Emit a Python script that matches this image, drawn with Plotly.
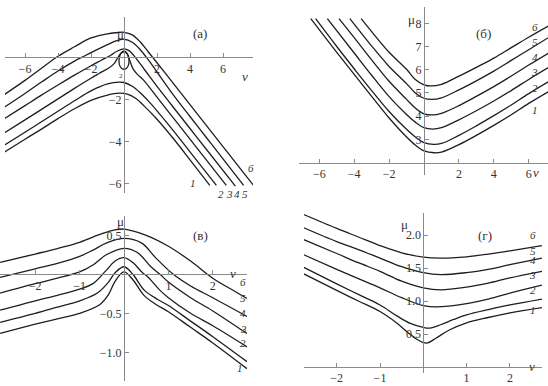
import plotly.graph_objects as go

W, H = 548, 386

# ---------------- panel (а) data ----------------
a1_v = [-7.3, -6, -5, -4, -3, -2, -1, -0.3, 0.2, 0.7, 1.2, 2, 3, 4, 5.2]
a1_mu = [-4.54, -3.9, -3.42, -2.92, -2.45, -2.05, -1.8, -1.71, -1.75, -1.95, -2.3, -2.95, -3.88, -4.88, -6.1]
a2_v = [-7.3, -6, -5, -4, -3, -2, -1, -0.3, 0, 0.5, 1, 1.5, 2, 3, 4, 5.6]
a2_mu = [-4.21, -3.57, -3.07, -2.57, -2.07, -1.6, -1.27, -1.18, -1.2, -1.38, -1.7, -2.1, -2.55, -3.5, -4.5, -6.1]
a3_v = [-7.3, -6, -5, -4, -3, -2, -1.4, -0.9, -0.6, -0.4, -0.2, 0, 0.2, 0.35, 0.55, 0.8, 1.2, 2, 3, 4, 5, 6.2]
a3_mu = [-3.62, -2.98, -2.48, -1.98, -1.48, -1.0, -0.72, -0.5, -0.3, -0.05, 0.18, 0.26, 0.15, -0.15, -0.55, -0.8, -1.1, -1.9, -2.9, -3.9, -4.9, -6.1]
a4_v = [-7.3, -6, -5, -4, -3, -2, -1.4, -0.8, -0.4, 0, 0.3, 0.6, 1, 1.5, 2, 3, 4, 5, 6.75]
a4_mu = [-2.95, -2.3, -1.8, -1.32, -0.85, -0.4, -0.15, 0.1, 0.3, 0.4, 0.32, 0.08, -0.33, -0.86, -1.38, -2.39, -3.39, -4.39, -6.13]
a5_v = [-7.3, -6, -5, -4, -3, -2.5, -2, -1, -0.5, 0, 0.5, 1, 1.5, 2, 3, 4, 5, 6, 7.25]
a5_mu = [-2.4, -1.72, -1.18, -0.65, -0.18, 0.02, 0.22, 0.6, 0.78, 0.86, 0.72, 0.35, -0.15, -0.7, -1.8, -2.82, -3.83, -4.84, -6.1]
a6_v = [-7.3, -6, -5, -4, -3, -2, -1, -0.5, 0, 0.5, 1, 1.5, 2, 3, 4, 5, 6, 7, 7.85]
a6_mu = [-1.8, -1.1, -0.52, 0.05, 0.5, 0.92, 1.12, 1.17, 1.19, 1.07, 0.72, 0.23, -0.26, -1.25, -2.25, -3.25, -4.25, -5.25, -6.1]
a_loop_v = [0.0, 0.2, 0.3, 0.28, 0.15, 0.0, -0.15, -0.28, -0.3, -0.2, 0.0]
a_loop_mu = [0.3, 0.18, -0.1, -0.35, -0.52, -0.57, -0.52, -0.35, -0.1, 0.18, 0.3]

# ---------------- panel (б) data ----------------
b1_v = [-6.49, -5, -4, -3, -2, -1, -0.5, 0, 0.6, 1, 2, 3, 4, 5, 6, 7.12]
b1_mu = [8.2, 6.75, 5.8, 4.85, 3.92, 3.1, 2.75, 2.5, 2.42, 2.45, 2.77, 3.17, 3.6, 4.06, 4.55, 5.05]
b2_v = [-6.21, -5, -4, -3, -2, -1, -0.5, 0, 0.55, 1, 2, 3, 4, 5, 6, 7.12]
b2_mu = [8.2, 7.0, 6.04, 5.1, 4.2, 3.43, 3.1, 2.86, 2.78, 2.82, 3.17, 3.58, 4.02, 4.48, 4.97, 5.48]
b3_v = [-5.54, -4, -3, -2, -1, -0.5, 0, 0.5, 1, 2, 3, 4, 5, 6, 7.12]
b3_mu = [8.2, 6.72, 5.76, 4.84, 4.07, 3.74, 3.5, 3.44, 3.5, 3.84, 4.23, 4.65, 5.1, 5.58, 6.09]
b4_v = [-4.87, -4, -3, -2, -1, -0.5, 0, 0.5, 1, 2, 3, 4, 5, 6, 7.12]
b4_mu = [8.2, 7.38, 6.42, 5.5, 4.72, 4.35, 4.1, 4.05, 4.12, 4.45, 4.85, 5.27, 5.73, 6.2, 6.71]
b5_v = [-4.25, -3, -2, -1, -0.5, 0, 0.45, 1, 2, 3, 4, 5, 6, 7.12]
b5_mu = [8.2, 7.02, 6.14, 5.4, 5.0, 4.77, 4.72, 4.79, 5.13, 5.52, 5.94, 6.4, 6.86, 7.38]
b6_v = [-3.6, -3, -2, -1, -0.5, 0, 0.4, 1, 2, 3, 4, 5, 6, 7.12]
b6_mu = [8.2, 7.64, 6.75, 6.02, 5.58, 5.35, 5.3, 5.37, 5.72, 6.1, 6.5, 6.95, 7.4, 7.88]

# ---------------- panel (в) data ----------------
c1_v = [-2.79, -2, -1.5, -1, -0.55, -0.35, -0.2, 0, 0.2, 0.45, 0.73, 1, 1.5, 2, 2.77]
c1_mu = [-0.756, -0.64, -0.57, -0.5, -0.39, -0.26, -0.09, 0.03, -0.07, -0.27, -0.39, -0.48, -0.68, -0.88, -1.21]
c2_v = [-2.79, -2, -1.5, -1, -0.6, -0.35, -0.2, 0, 0.2, 0.45, 0.75, 1, 1.5, 2, 2.77]
c2_mu = [-0.615, -0.5, -0.42, -0.34, -0.24, -0.1, 0.02, 0.097, 0.0, -0.2, -0.32, -0.4, -0.6, -0.8, -1.12]
c3_v = [-2.79, -2, -1.5, -1, -0.7, -0.4, -0.2, 0, 0.2, 0.4, 0.55, 0.8, 1, 1.5, 2, 2.77]
c3_mu = [-0.46, -0.34, -0.27, -0.19, -0.12, 0.05, 0.17, 0.213, 0.15, 0.03, -0.04, -0.2, -0.3, -0.5, -0.66, -0.93]
c4_v = [-2.79, -2, -1.5, -1, -0.7, -0.4, 0, 0.3, 0.6, 0.81, 1, 1.5, 2, 2.77]
c4_mu = [-0.24, -0.12, -0.05, 0.03, 0.12, 0.25, 0.333, 0.28, 0.1, 0.0, -0.1, -0.3, -0.47, -0.76]
c5_v = [-2.79, -2, -1.5, -1, -0.7, -0.4, 0, 0.4, 0.7, 1.11, 1.5, 2, 2.77]
c5_mu = [-0.04, 0.07, 0.14, 0.23, 0.31, 0.4, 0.46, 0.4, 0.22, 0.0, -0.15, -0.3, -0.54]
c6_v = [-2.79, -2, -1.5, -1, -0.5, -0.2, 0, 0.5, 1, 1.5, 2, 2.5, 2.77]
c6_mu = [0.154, 0.26, 0.33, 0.41, 0.52, 0.57, 0.58, 0.5, 0.36, 0.17, -0.05, -0.22, -0.31]

# ---------------- panel (г) data ----------------
d1_v = [-2.76, -2, -1.5, -1, -0.6, -0.35, -0.15, 0, 0.1, 0.3, 0.6, 1, 1.5, 2, 2.74]
d1_mu = [1.41, 1.16, 1.0, 0.84, 0.66, 0.52, 0.42, 0.37, 0.365, 0.44, 0.56, 0.67, 0.75, 0.82, 0.9]
d2_v = [-2.76, -2, -1.5, -1, -0.6, -0.3, 0, 0.15, 0.4, 0.7, 1, 1.5, 2, 2.74]
d2_mu = [1.51, 1.26, 1.1, 0.94, 0.77, 0.66, 0.6, 0.59, 0.64, 0.72, 0.79, 0.87, 0.94, 1.03]
d3_v = [-2.76, -2, -1.5, -1, -0.5, 0, 0.3, 1, 1.5, 2, 2.74]
d3_mu = [1.7, 1.48, 1.34, 1.2, 1.05, 0.93, 0.91, 0.96, 1.03, 1.12, 1.24]
d4_v = [-2.76, -2, -1.5, -1, -0.5, 0, 0.4, 1, 1.5, 2, 2.74]
d4_mu = [1.93, 1.72, 1.58, 1.45, 1.3, 1.2, 1.17, 1.21, 1.27, 1.35, 1.45]
d5_v = [-2.76, -2, -1.5, -1, -0.5, 0, 0.4, 1, 1.5, 2, 2.74]
d5_mu = [2.11, 1.9, 1.78, 1.65, 1.52, 1.43, 1.4, 1.43, 1.48, 1.55, 1.65]
d6_v = [-2.76, -2, -1.5, -1, -0.5, 0, 0.4, 1, 1.5, 2, 2.74]
d6_mu = [2.31, 2.1, 1.97, 1.84, 1.73, 1.665, 1.65, 1.67, 1.71, 1.76, 1.84]

curve_names = ["1", "2", "3", "4", "5", "6"]

# tick values / labels
a_xticks = [-6, -4, -2, 2, 4, 6]
a_yticks = [-2, -4, -6]
b_xticks = [-6, -4, -2, 2, 4, 6]
b_yticks = [3, 4, 5, 6, 7, 8]
c_xticks = [-2, -1, 1, 2]
c_yticks = [0.5, -0.5, -1.0]
d_xticks = [-2, -1, 1, 2]
d_yticks = [0.5, 1.0, 1.5, 2.0]


def fmt(t, dec):
    s = f"{abs(t):.{dec}f}"
    return ("\u2212" + s) if t < 0 else s


# panel geometry (pixel frame + pixel scale of the drawn axes)
panels = [
    dict(name="(а)", xd=(5, 253), yd=(17, 193), X0=124.0, sx=16.5, Y0=57.3, sy=21.0, axmu=0.0,
         curves=[(a1_v, a1_mu), (a2_v, a2_mu), (a3_v, a3_mu), (a4_v, a4_mu), (a5_v, a5_mu), (a6_v, a6_mu),
                 (a_loop_v, a_loop_mu)],
         xt=a_xticks, yt=a_yticks, ydec=0,
         title_px=(200, 24), mu_px=(115, 25), v_px=(245, 67),
         lab_px=[(193, 183), (221, 194), (229, 194), (237, 194), (245, 194), (251, 168)]),
    dict(name="(б)", xd=(299, 548), yd=(7, 175), X0=424.0, sx=17.45, Y0=208.9, sy=23.2, axmu=2.0,
         curves=[(b1_v, b1_mu), (b2_v, b2_mu), (b3_v, b3_mu), (b4_v, b4_mu), (b5_v, b5_mu), (b6_v, b6_mu)],
         xt=b_xticks, yt=b_yticks, ydec=0,
         title_px=(493, 24), mu_px=(417, 10), v_px=(541, 172),
         lab_px=[(539, 103), (539, 81), (539, 65), (539, 50), (539, 35), (539, 20)]),
    dict(name="(в)", xd=(0, 247), yd=(216, 381), X0=124.0, sx=44.4, Y0=274.3, sy=78.0, axmu=0.0,
         curves=[(c1_v, c1_mu), (c2_v, c2_mu), (c3_v, c3_mu), (c4_v, c4_mu), (c5_v, c5_mu), (c6_v, c6_mu)],
         xt=c_xticks, yt=c_yticks, ydec=1,
         title_px=(200, 236), mu_px=(115, 221), v_px=(233, 283),
         lab_px=[(240, 375), (243, 350), (243, 336), (243, 320), (243, 305), (243, 289)]),
    dict(name="(г)", xd=(304, 542), yd=(213, 373), X0=423.3, sx=43.3, Y0=367.0, sy=66.0, axmu=0.0,
         curves=[(d1_v, d1_mu), (d2_v, d2_mu), (d3_v, d3_mu), (d4_v, d4_mu), (d5_v, d5_mu), (d6_v, d6_mu)],
         xt=d_xticks, yt=d_yticks, ydec=1,
         title_px=(494, 236), mu_px=(410, 225), v_px=(537, 376),
         lab_px=[(537, 317), (537, 297), (537, 282), (537, 267), (537, 251), (537, 235)]),
]

AXIS_COL = "#8a8a8a"
LINE_COL = "#1e1e1e"
SERIF = "Liberation Serif"
TXT_COL = "#333333"

fig = go.Figure()
annotations = []


def px2paper(x, y):
    return x / W, 1 - y / H


for i, p in enumerate(panels, start=1):
    xa = "x" if i == 1 else f"x{i}"
    ya = "y" if i == 1 else f"y{i}"
    xkey = "xaxis" if i == 1 else f"xaxis{i}"
    ykey = "yaxis" if i == 1 else f"yaxis{i}"
    xr = [(p["xd"][0] - p["X0"]) / p["sx"], (p["xd"][1] - p["X0"]) / p["sx"]]
    yr = [(p["Y0"] - p["yd"][1]) / p["sy"], (p["Y0"] - p["yd"][0]) / p["sy"]]
    xdom = [p["xd"][0] / W, p["xd"][1] / W]
    ydom = [1 - p["yd"][1] / H, 1 - p["yd"][0] / H]
    yaxis_pos = p["X0"] / W
    xaxis_pos = 1 - (p["Y0"] - p["axmu"] * p["sy"]) / H

    for (vv, mm) in p["curves"]:
        fig.add_trace(go.Scatter(x=vv, y=mm, xaxis=xa, yaxis=ya, mode="lines",
                                 line=dict(color=LINE_COL, width=1.3, shape="spline", smoothing=1.0),
                                 hoverinfo="skip", showlegend=False, cliponaxis=True))

    fig.layout[xkey] = dict(domain=xdom, range=xr, anchor="free", position=xaxis_pos, side="bottom",
                            showgrid=False, zeroline=False, showline=True, linecolor=AXIS_COL, linewidth=1,
                            ticks="inside", ticklen=4, tickcolor=AXIS_COL, tickwidth=1,
                            tickvals=p["xt"], ticktext=[fmt(t, 0) for t in p["xt"]],
                            tickfont=dict(family=SERIF, size=12, color=TXT_COL), fixedrange=True)
    fig.layout[ykey] = dict(domain=ydom, range=yr, anchor="free", position=yaxis_pos, side="left",
                            showgrid=False, zeroline=False, showline=True, linecolor=AXIS_COL, linewidth=1,
                            ticks="inside", ticklen=4, tickcolor=AXIS_COL, tickwidth=1,
                            tickvals=p["yt"], ticktext=[fmt(t, p["ydec"]) for t in p["yt"]],
                            tickfont=dict(family=SERIF, size=12, color=TXT_COL), fixedrange=True)

    tx, ty = px2paper(*p["title_px"])
    annotations.append(dict(x=tx, y=ty, xref="paper", yref="paper", text=p["name"], showarrow=False,
                            font=dict(family=SERIF, size=13, color=TXT_COL)))
    mx, my = px2paper(*p["mu_px"])
    annotations.append(dict(x=mx, y=my, xref="paper", yref="paper", text="μ", showarrow=False,
                            font=dict(family=SERIF, size=13, color=TXT_COL)))
    vx, vy = px2paper(*p["v_px"])
    annotations.append(dict(x=vx, y=vy, xref="paper", yref="paper", text="<i>v</i>", showarrow=False,
                            font=dict(family=SERIF, size=13, color=TXT_COL)))
    for name, (lx, ly) in zip(curve_names, p["lab_px"]):
        qx, qy = px2paper(lx, ly)
        annotations.append(dict(x=qx, y=qy, xref="paper", yref="paper", text=f"<i>{name}</i>",
                                showarrow=False, borderpad=0,
                                font=dict(family=SERIF, size=11, color=TXT_COL)))

# tiny mark near the loop in panel (а)
sx_, sy_ = px2paper(116.5, 70)
annotations.append(dict(x=sx_, y=sy_, xref="paper", yref="paper", text="2", showarrow=False,
                        font=dict(family=SERIF, size=7, color=TXT_COL)))

fig.update_layout(width=W, height=H, margin=dict(l=0, r=0, t=0, b=0, pad=0),
                  paper_bgcolor="white", plot_bgcolor="white", showlegend=False,
                  annotations=annotations)

fig.write_html("out.html")
